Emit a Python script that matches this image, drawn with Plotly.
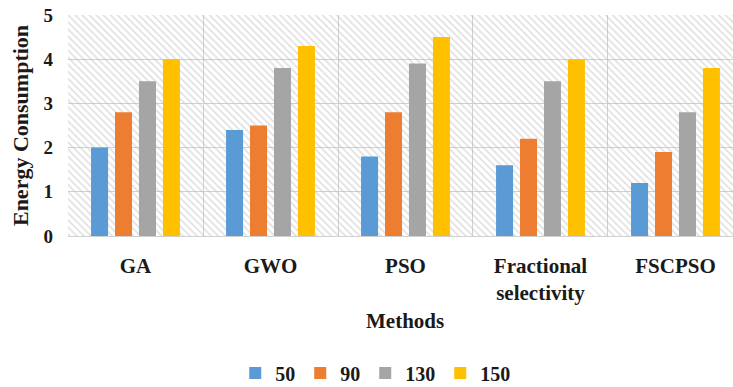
import plotly.graph_objects as go

# Energy consumption per optimisation method for four node counts
methods = ["GA", "GWO", "PSO", "Fractional<br>selectivity", "FSCPSO"]
series_names = ["50", "90", "130", "150"]
energy_50 = [2.0, 2.4, 1.8, 1.6, 1.2]
energy_90 = [2.8, 2.5, 2.8, 2.2, 1.9]
energy_130 = [3.5, 3.8, 3.9, 3.5, 2.8]
energy_150 = [4.0, 4.3, 4.5, 4.0, 3.8]
y_ticks = [0, 1, 2, 3, 4, 5]

series_values = [energy_50, energy_90, energy_130, energy_150]
colors = ["#5B9BD5", "#ED7D31", "#A5A5A5", "#FFC000"]

FONT = "Liberation Serif"
TEXT = "#1a1a1a"
GRID = "#d0d0d0"
X_RANGE = [-0.5, 4.426]

fig = go.Figure()

# Hatched plot-area background on the base subplot (grid shows through)
fig.add_trace(go.Bar(
    x=[(X_RANGE[0] + X_RANGE[1]) / 2], y=[y_ticks[-1]],
    width=[X_RANGE[1] - X_RANGE[0] + 0.2],
    marker=dict(color="rgba(0,0,0,0)", line_width=0,
                pattern=dict(shape="\\", size=5, solidity=0.32,
                             fgcolor="#bfbfbf", bgcolor="rgba(0,0,0,0)")),
    xaxis="x", yaxis="y", showlegend=False, hoverinfo="skip",
))

# Data bars on an overlaying category subplot
for name, vals, col in zip(series_names, series_values, colors):
    fig.add_trace(go.Bar(
        x=methods, y=vals, name=f"<b>{name}</b>", marker_color=col,
        marker_line_width=0, xaxis="x2", yaxis="y2",
    ))

fig.update_layout(
    width=733, height=387,
    margin=dict(l=68, r=0, t=15, b=151, autoexpand=False),
    paper_bgcolor="white", plot_bgcolor="white",
    barmode="group", bargap=0.29, bargroupgap=0.29,
    font=dict(family=FONT, color=TEXT),
    xaxis=dict(
        range=X_RANGE, tickvals=[-0.5, 0.5, 1.5, 2.5, 3.5, 4.5],
        showticklabels=False, ticks="", showgrid=True, gridcolor=GRID,
        gridwidth=1, zeroline=False, showline=True, linecolor=GRID,
        automargin=False,
    ),
    yaxis=dict(
        range=[0, 5], tickvals=y_ticks,
        ticktext=[f"<b>{t}</b>" for t in y_ticks],
        tickfont=dict(size=19, family=FONT, color=TEXT),
        showgrid=True, gridcolor=GRID, zeroline=False, ticks="",
        ticklabelstandoff=14,
        title=dict(text="<b>Energy Consumption</b>",
                   font=dict(size=22, family=FONT), standoff=8),
        automargin=False,
    ),
    xaxis2=dict(
        type="category", overlaying="x", anchor="y2", side="bottom",
        range=X_RANGE, showgrid=False, zeroline=False, ticks="",
        tickvals=methods, ticktext=[f"<b>{m}</b>" for m in methods],
        tickfont=dict(size=21, family=FONT, color=TEXT),
        ticklabelstandoff=15, automargin=False,
    ),
    yaxis2=dict(range=[0, 5], overlaying="y", anchor="x2", visible=False),
    legend=dict(
        orientation="h", x=0.462, xanchor="center",
        yref="container", y=0.036, yanchor="middle",
        font=dict(size=20, family=FONT, color=TEXT),
        itemwidth=30, traceorder="normal",
    ),
    annotations=[dict(
        text="<b>Methods</b>", xref="paper", yref="paper",
        x=0.507, y=-0.385, xanchor="center", yanchor="middle",
        showarrow=False, font=dict(size=21, family=FONT, color=TEXT),
    )],
)

fig.write_html("out.html")
